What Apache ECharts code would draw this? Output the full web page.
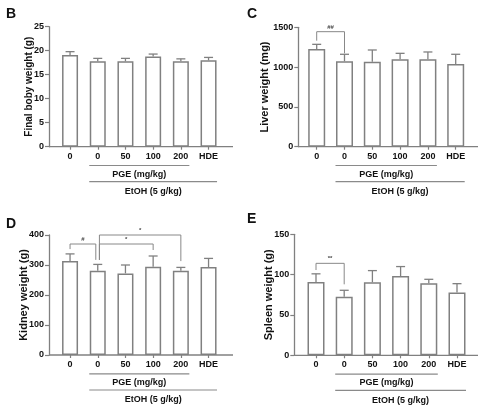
<!DOCTYPE html>
<html><head><meta charset="utf-8">
<script src="https://cdn.jsdelivr.net/npm/echarts@6.0.0/dist/echarts.min.js"></script>
<style>html,body{margin:0;padding:0;background:#fff}#c{width:491px;height:412px}</style>
</head><body><div id="c"></div>
<script>
// ---- data ----
const tickLabels = ['0', '0', '50', '100', '200', 'HDE'];
const groupLabels = ['PGE (mg/kg)', 'EtOH (5 g/kg)'];
const groupSpans = [[1, 4, 0], [1, 5, 1]]; // start category, end category, row
const bodyMean = [19.1, 17.8, 17.8, 18.8, 17.8, 18.0];
const bodySD = [0.7, 0.6, 0.6, 0.5, 0.5, 0.6];
const liverMean = [1228, 1073, 1068, 1098, 1098, 1040];
const liverSD = [58, 88, 147, 75, 92, 121];
const kidneyMean = [313, 281, 272, 294, 281, 293];
const kidneySD = [24, 21, 28, 36, 11, 29];
const spleenMean = [91, 72.7, 90.5, 98.3, 89.3, 78];
const spleenSD = [10, 7.9, 14.5, 11.7, 4.9, 10.8];
// significance brackets: [x from, x to, top value, left leg end, right leg end, label]
const bodySig = [];
const liverSig = [[0, 1, 1445, 1332, 1173, '##']];
const kidneySig = [[0, 0.93, 370, 353, 317, '#'], [1.06, 3, 370, 317, 350, '*'], [1.06, 4, 400, 317, 313, '*']];
const spleenSig = [[0, 1, 114, 105.7, 88, '**']];

// ---- layout ----
const FONT = '"Liberation Sans", Arial, sans-serif';
const GRAY = '#808080';
const TXT = '#111';
const panels = [
  {letter: 'B', lx: 6, ly: 7, name: 'Final boby weight (g)', nameSize: 10, mean: bodyMean, sd: bodySD, sig: bodySig, max: 25, interval: 5,
   yAxisX: 49, left: 56.2, right: 222.4, top: 26.7, bottom: 146.7, axisEnd: 233, nameGap: 15, barW: 16},
  {letter: 'C', lx: 247, ly: 7, name: 'Liver weight (mg)', nameSize: 11, mean: liverMean, sd: liverSD, sig: liverSig, max: 1500, interval: 500,
   yAxisX: 298.3, left: 302.8, right: 469.6, top: 27.3, bottom: 146.7, axisEnd: 478, nameGap: 28, barW: 17},
  {letter: 'D', lx: 6, ly: 217, name: 'Kidney weight (g)', nameSize: 11, mean: kidneyMean, sd: kidneySD, sig: kidneySig, max: 400, interval: 100,
   yAxisX: 49, left: 56.2, right: 222.4, top: 235, bottom: 355, axisEnd: 233, nameGap: 19.5, barW: 16},
  {letter: 'E', lx: 247, ly: 212, name: 'Spleen weight (g)', nameSize: 11, mean: spleenMean, sd: spleenSD, sig: spleenSig, max: 150, interval: 50,
   yAxisX: 294.3, left: 301.9, right: 471.1, top: 234.3, bottom: 355.3, axisEnd: 478, nameGap: 19.5, barW: 17}
];

const grid = [], xAxis = [], yAxis = [], series = [], graphic = [];
panels.forEach((p, i) => {
  grid.push({left: p.left, top: p.top, width: p.right - p.left, height: p.bottom - p.top});
  xAxis.push({
    type: 'category', gridIndex: i, data: tickLabels,
    axisLine: {show: false},
    axisTick: {show: true, alignWithLabel: true, length: 3, lineStyle: {color: GRAY, width: 1.2}},
    axisLabel: {fontSize: 9, fontWeight: 'bold', color: TXT, fontFamily: FONT, margin: 5}
  });
  yAxis.push({
    type: 'value', gridIndex: i, min: 0, max: p.max, interval: p.interval,
    offset: p.left - p.yAxisX,
    name: p.name, nameLocation: 'middle', nameGap: p.nameGap, nameMoveOverlap: false,
    nameTextStyle: {fontSize: p.nameSize, fontWeight: 'bold', color: TXT, fontFamily: FONT},
    axisLine: {show: true, onZero: false, lineStyle: {color: GRAY, width: 1.3}},
    axisTick: {show: true, length: 4, lineStyle: {color: GRAY, width: 1.2}},
    axisLabel: {fontSize: 9, fontWeight: 'bold', color: TXT, fontFamily: FONT, margin: 5, formatter: v => String(v)},
    splitLine: {show: false}
  });
  graphic.push({type: 'text', left: p.lx, top: p.ly, style: {text: p.letter, font: 'bold 14px ' + FONT, fill: TXT}});
});
// hidden value x axes for brackets
panels.forEach((p, i) => {
  xAxis.push({type: 'value', gridIndex: i, min: -0.5, max: 5.5, show: false, axisLine: {onZero: false}});
});

panels.forEach((p, i) => {
  // bars
  series.push({
    type: 'bar', xAxisIndex: i, yAxisIndex: i, data: p.mean, barWidth: p.barW,
    itemStyle: {color: '#fff', borderColor: GRAY, borderWidth: 1.5}, z: 2
  });
  // error bars (upper only)
  series.push({
    type: 'custom', xAxisIndex: i, yAxisIndex: i, z: 3,
    data: p.mean.map((m, k) => [k, m, p.sd[k]]),
    renderItem: function (params, api) {
      const x = api.value(0), m = api.value(1), s = api.value(2);
      const base = api.coord([x, m]), top = api.coord([x, m + s]);
      const hw = 4.5;
      return {type: 'group', children: [
        {type: 'line', shape: {x1: base[0], y1: base[1], x2: top[0], y2: top[1]}, style: {stroke: GRAY, lineWidth: 1.3}},
        {type: 'line', shape: {x1: top[0] - hw, y1: top[1], x2: top[0] + hw, y2: top[1]}, style: {stroke: GRAY, lineWidth: 1.3}}
      ]};
    }
  });
  // baseline (x axis line, extended past the bars)
  series.push({
    type: 'custom', xAxisIndex: i, yAxisIndex: i, clip: false, z: 4, silent: true,
    data: [[0, 0]],
    renderItem: function (params, api) {
      const band = api.size([1, 0])[0];
      const a = api.coord([0, 0]), b = api.coord([tickLabels.length - 1, 0]);
      const x1 = a[0] - band / 2 - (p.left - p.yAxisX), x2 = b[0] + band / 2 + (p.axisEnd - p.right);
      return {type: 'line', shape: {x1: x1, y1: a[1], x2: x2, y2: a[1]}, style: {stroke: GRAY, lineWidth: 1.3}};
    }
  });
  // group annotations under the axis
  series.push({
    type: 'custom', xAxisIndex: i, yAxisIndex: i, clip: false, z: 4, silent: true,
    data: groupSpans.map(g => [g[0], 0, g[1], g[2]]),
    renderItem: function (params, api) {
      const s = api.coord([api.value(0), 0]), e = api.coord([api.value(2), 0]);
      const row = api.value(3);
      const hw = p.barW / 2 + 0.5;
      const yLine = s[1] + (row === 0 ? 18.8 : 35);
      const yText = s[1] + (row === 0 ? 27.5 : 44.8);
      return {type: 'group', children: [
        {type: 'line', shape: {x1: s[0] - hw, y1: yLine, x2: e[0] + hw, y2: yLine}, style: {stroke: '#8a8a8a', lineWidth: 1.2}},
        {type: 'text', x: (s[0] + e[0]) / 2, y: yText,
         style: {text: groupLabels[row], font: 'bold 9px ' + FONT, fill: TXT, align: 'center', verticalAlign: 'middle'}}
      ]};
    }
  });
  // significance brackets
  if (p.sig.length) {
    series.push({
      type: 'custom', xAxisIndex: panels.length + i, yAxisIndex: i, clip: false, z: 5, silent: true,
      data: p.sig.map(r => r.slice(0, 5)),
      renderItem: function (params, api) {
        const x1 = api.value(0), x2 = api.value(1), top = api.value(2), l = api.value(3), r = api.value(4);
        const a = api.coord([x1, l]), b = api.coord([x1, top]), c = api.coord([x2, top]), d = api.coord([x2, r]);
        return {type: 'group', children: [
          {type: 'polyline', shape: {points: [a, b, c, d]}, style: {stroke: '#888', lineWidth: 1, fill: null}},
          {type: 'text', x: (b[0] + c[0]) / 2, y: b[1] - 1.5,
           style: {text: p.sig[params.dataIndex][5], font: 'bold 6px ' + FONT, fill: '#444', align: 'center', verticalAlign: 'bottom'}}
        ]};
      }
    });
  }
});

const chart = echarts.init(document.getElementById('c'), null, {renderer: 'canvas'});
chart.setOption({animation: false, backgroundColor: '#fff', grid, xAxis, yAxis, series, graphic});
</script>
</body></html>
